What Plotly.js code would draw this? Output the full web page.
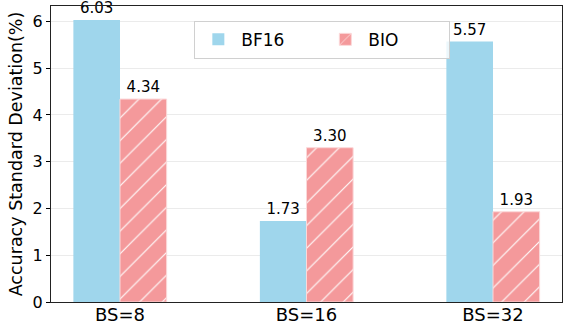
<!DOCTYPE html>
<html>
<head>
<meta charset="utf-8">
<script src="https://cdn.plot.ly/plotly-3.0.1.min.js"></script>
<style>
  html, body { margin: 0; padding: 0; background: #fff; }
  #chart { width: 563px; height: 328px; }
</style>
</head>
<body>
<div id="chart"></div>
<script>
// Batch-size groups and the accuracy std-dev of each numeric format
const categories = ['BS=8', 'BS=16', 'BS=32'];
const bf16Values = [6.03, 1.73, 5.57];
const bioValues = [4.34, 3.30, 1.93];
const seriesNames = ['BF16', 'BIO'];
const yTicks = [0, 1, 2, 3, 4, 5, 6];

const font = 'DejaVu Sans, sans-serif';
const labelFont = { family: font, size: 15, color: '#000' };

const bf16 = {
  type: 'bar',
  name: seriesNames[0],
  x: categories,
  y: bf16Values,
  marker: { color: '#9FD6EC', line: { width: 0 } },
  texttemplate: '%{y:.2f}',
  textposition: 'outside',
  constraintext: 'none',
  textfont: labelFont,
  outsidetextfont: labelFont,
  insidetextfont: labelFont,
  cliponaxis: false
};

const bio = {
  type: 'bar',
  name: seriesNames[1],
  x: categories,
  y: bioValues,
  marker: {
    color: '#F4999B',
    line: { color: '#FBD8D9', width: 1 },
    pattern: { shape: '/', fgcolor: '#ffffff', bgcolor: '#F4999B', size: 16, solidity: 0.07 }
  },
  texttemplate: '%{y:.2f}',
  textposition: 'outside',
  constraintext: 'none',
  textfont: labelFont,
  outsidetextfont: labelFont,
  insidetextfont: labelFont,
  cliponaxis: false
};

const layout = {
  width: 563,
  height: 328,
  margin: { l: 51, r: 1, t: 6, b: 26 },
  paper_bgcolor: '#fff',
  plot_bgcolor: '#fff',
  font: { family: font, color: '#000' },
  barmode: 'group',
  bargap: 0.5,
  bargroupgap: 0,
  showlegend: true,
  legend: {
    orientation: 'h',
    x: 0.531, xanchor: 'center',
    y: 0.95, yanchor: 'top',
    bgcolor: 'rgba(255,255,255,0.8)',
    bordercolor: '#d0d0d0',
    borderwidth: 1,
    font: { family: font, size: 17, color: '#000' },
    entrywidth: 76,
    itemwidth: 36
  },
  xaxis: {
    type: 'category',
    range: [-0.37, 2.37],
    tickfont: { family: font, size: 18, color: '#000' },
    ticks: '', ticklabelstandoff: -4,
    showline: true, linecolor: '#222', linewidth: 1.2, mirror: true,
    showgrid: false
  },
  yaxis: {
    range: [0, 6.33],
    tickvals: yTicks,
    tickfont: { family: font, size: 16, color: '#000' },
    ticks: 'outside', ticklen: 4, tickcolor: '#000',
    showline: true, linecolor: '#222', linewidth: 1.2, mirror: true,
    showgrid: true, gridcolor: '#ebebeb', gridwidth: 1,
    zeroline: false,
    title: { text: 'Accuracy Standard Deviation(%)', font: { family: font, size: 17.5, color: '#000' }, standoff: 5 }
  }
};

Plotly.newPlot('chart', [bf16, bio], layout, { displayModeBar: false, staticPlot: true });
</script>
</body>
</html>
